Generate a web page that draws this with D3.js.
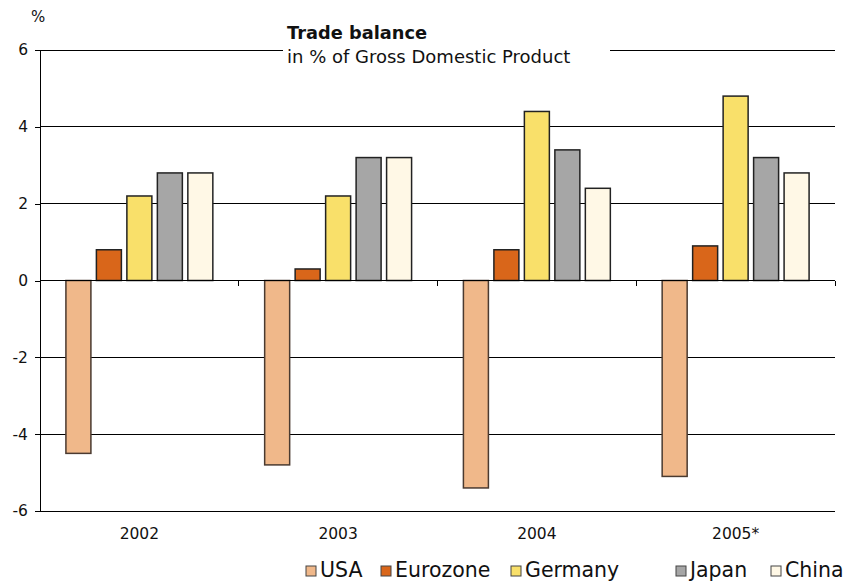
<!DOCTYPE html>
<html><head><meta charset="utf-8">
<script src="https://cdn.jsdelivr.net/npm/d3@7"></script>
<style>body{margin:0;background:#fff;} svg{display:block;font-family:"DejaVu Sans",Verdana,sans-serif;}</style>
</head><body><svg id="c" width="867" height="581"></svg>
<script>
const categories = ["2002","2003","2004","2005*"];
const seriesNames = ["USA","Eurozone","Germany","Japan","China"];
const usa      = [-4.5,-4.8,-5.4,-5.1];
const eurozone = [0.8,0.3,0.8,0.9];
const germany  = [2.2,2.2,4.4,4.8];
const japan    = [2.8,3.2,3.4,3.2];
const china    = [2.8,3.2,2.4,2.8];
const yTicks = [-6,-4,-2,0,2,4,6];
const colors = ["#F0B88A","#D9661A","#F9E06A","#A6A6A6","#FFF8E6"];
const series = [usa,eurozone,germany,japan,china];

const FONT = "DejaVu Sans, Verdana, sans-serif";
const svg = d3.select("#c");
const L=40, R=835, T=50, B=511;
const x = d3.scaleBand().domain(categories).range([L,R]).paddingInner(0).paddingOuter(0);
const y = d3.scaleLinear().domain([-6,6]).range([B,T]);
const xs = d3.scaleBand().domain(seriesNames).range([0, x.bandwidth()]).paddingInner(0.18).paddingOuter(0.85);

// gridlines
svg.append("g").selectAll("line").data(yTicks.filter(d=>d!==0)).join("line")
  .attr("x1",L).attr("x2",R).attr("y1",d=>y(d)).attr("y2",d=>y(d))
  .attr("stroke","#000").attr("stroke-width",1).attr("shape-rendering","crispEdges");

// y axis
const ya = svg.append("g").attr("transform",`translate(${L},0)`)
  .call(d3.axisLeft(y).tickValues(yTicks).tickSize(5).tickPadding(7).tickFormat(d => String(d)));
ya.select(".domain").remove();
ya.append("line").attr("x1",0).attr("x2",0).attr("y1",T).attr("y2",B).attr("stroke","#000").attr("shape-rendering","crispEdges");
ya.selectAll("text").attr("font-size",15.5).attr("font-family",FONT).attr("fill","#111");
ya.selectAll(".tick line").attr("stroke","#000").attr("shape-rendering","crispEdges");

// bars
const g = svg.append("g");
categories.forEach((c,i)=>{
  seriesNames.forEach((s,j)=>{
    const v = series[j][i];
    g.append("rect")
      .attr("x", x(c)+xs(s)).attr("width", xs.bandwidth())
      .attr("y", y(Math.max(0,v))).attr("height", Math.abs(y(v)-y(0)))
      .attr("fill", colors[j]).attr("stroke", j===0?"#4a3a30":"#222").attr("stroke-width",1.5);
  });
});

// zero axis with ticks at category boundaries
const xa = svg.append("g").attr("transform",`translate(0,${y(0)})`);
xa.append("line").attr("x1",L).attr("x2",R).attr("y1",0).attr("y2",0).attr("stroke","#000").attr("shape-rendering","crispEdges");
xa.selectAll("line.t").data(categories.map(c=>x(c)+x.bandwidth())).join("line").attr("class","t")
  .attr("x1",d=>d).attr("x2",d=>d).attr("y1",0).attr("y2",5).attr("stroke","#000").attr("shape-rendering","crispEdges");

// category labels
svg.append("g").selectAll("text").data(categories).join("text")
  .attr("x",d=>x(d)+x.bandwidth()/2).attr("y",539).attr("text-anchor","middle")
  .attr("font-size",15.5).attr("fill","#111").text(d=>d);

// % label
svg.append("text").attr("x",31).attr("y",22).attr("font-size",15).attr("fill","#111").text("%");

// title box
svg.append("rect").attr("x",283).attr("y",20).attr("width",327).attr("height",50).attr("fill","#fff");
svg.append("text").attr("x",287).attr("y",39).attr("font-size",17.8).attr("font-weight","bold").attr("fill","#111").text("Trade balance");
svg.append("text").attr("x",287).attr("y",63).attr("font-size",18).attr("fill","#111").text("in % of Gross Domestic Product");

// legend
const legX = [306,381,511,676,771];
const lg = svg.append("g");
seriesNames.forEach((s,j)=>{
  lg.append("rect").attr("x",legX[j]).attr("y",566).attr("width",10).attr("height",10)
    .attr("fill",colors[j]).attr("stroke","#444").attr("stroke-width",1);
  lg.append("text").attr("x",legX[j]+14).attr("y",577).attr("font-size",20.5).attr("fill","#111").text(s);
});
</script></body></html>
